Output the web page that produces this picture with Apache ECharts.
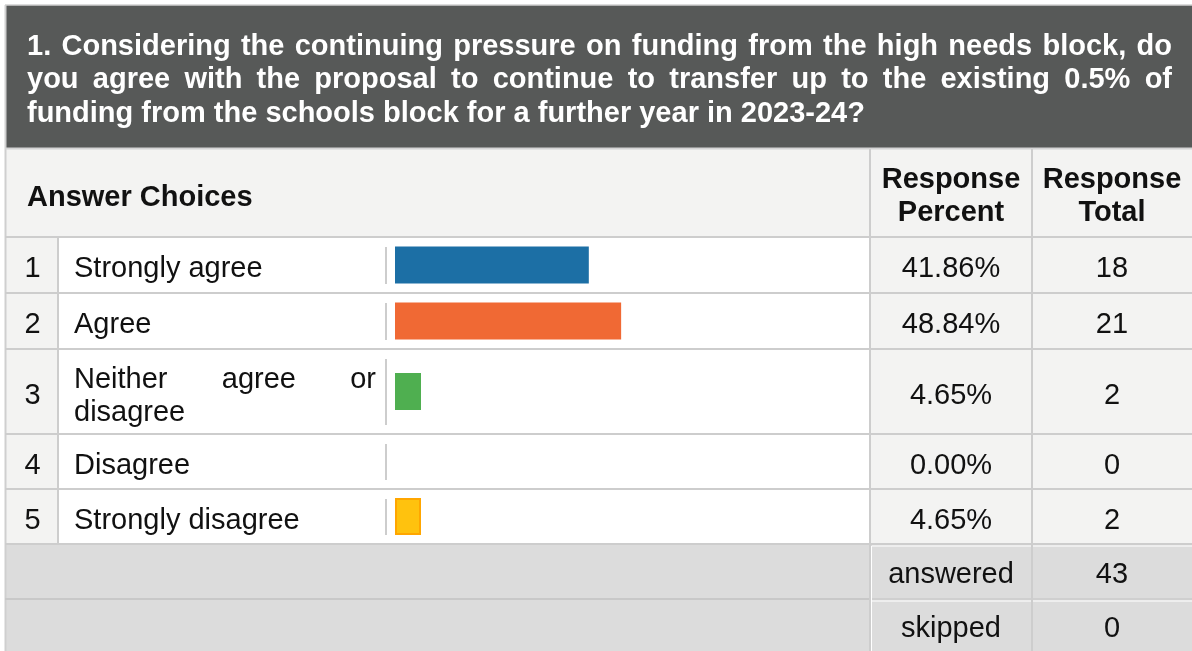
<!DOCTYPE html>
<html>
<head>
<meta charset="utf-8">
<script src="https://cdn.jsdelivr.net/npm/echarts@6/dist/echarts.min.js"></script>
<style>
html,body{margin:0;padding:0;background:#ffffff;}
#chart{width:1192px;height:651px;}
</style>
</head>
<body>
<div id="chart"></div>
<script>
// ---- data ----
const titleLines = [
  '1. Considering the continuing pressure on funding from the high needs block, do',
  'you agree with the proposal to continue to transfer up to the existing 0.5% of',
  'funding from the schools block for a further year in 2023-24?'
];
const headerLabels = ['Answer Choices', 'Response\nPercent', 'Response\nTotal'];
const choiceNumbers = ['1', '2', '3', '4', '5'];
const choiceLabels = ['Strongly agree', 'Agree', 'Neither agree or disagree', 'Disagree', 'Strongly disagree'];
const responsePercent = [41.86, 48.84, 4.65, 0.00, 4.65];
const responseTotal = [18, 21, 2, 0, 2];
const summaryLabels = ['answered', 'skipped'];
const summaryValues = [43, 0];
const barColors = ['#1c6fa5', '#f06934', '#4faf50', '#7b3f98', '#ffc20e'];
const barBorders = ['#1c6fa5', '#f06934', '#4faf50', '#7b3f98', '#ffa600'];

// ---- layout ----
const FONT = '"Liberation Sans", Arial, sans-serif';
const FS = 29;
const X = {left: 5, num: 58, label: 386, pct: 870, tot: 1032, right: 1192};
const titleTop = 5, titleBottom = 148;
const headerTop = 149, headerBottom = 237;
const rowBounds = [[237, 293], [293, 349], [349, 434], [434, 489], [489, 544]];
const sumBounds = [[544, 599], [599, 651]];
const lineColor = '#cdcdcd';
const DY = 2.5; // vertical text offset

const chart = echarts.init(document.getElementById('chart'), null, {renderer: 'canvas'});
const measureCtx = document.createElement('canvas').getContext('2d');

const g = [];
function rect(x, y, w, h, fill) {
  g.push({type: 'rect', silent: true, shape: {x, y, width: w, height: h}, style: {fill}});
}
function line(x1, y1, x2, y2, stroke, lw) {
  g.push({type: 'line', silent: true, shape: {x1, y1, x2, y2}, style: {stroke, lineWidth: lw || 2}});
}
function text(str, x, y, opts) {
  opts = opts || {};
  g.push({type: 'text', silent: true, z: 10, style: {
    text: str, x, y: y + DY,
    font: (opts.bold ? 'bold ' : '') + FS + 'px ' + FONT,
    fill: opts.fill || '#111111',
    align: opts.align || 'left', verticalAlign: 'middle',
    lineHeight: opts.lineHeight || 33
  }});
}
function justify(str, x0, x1, y, opts) {
  const font = (opts.bold ? 'bold ' : '') + FS + 'px ' + FONT;
  measureCtx.font = font;
  const words = str.split(' ');
  const widths = words.map(w => measureCtx.measureText(w).width);
  const sum = widths.reduce((a, b) => a + b, 0);
  const gap = (x1 - x0 - sum) / (words.length - 1);
  let x = x0;
  words.forEach((w, i) => { text(w, x, y, opts); x += widths[i] + gap; });
}

// backgrounds
rect(X.left, titleTop, X.right - X.left, titleBottom - titleTop, '#575958');
rect(X.left, headerTop, X.right - X.left, headerBottom - headerTop, '#f3f3f2');
rowBounds.forEach(([t, b]) => {
  rect(X.left, t, X.num - X.left, b - t, '#f3f3f2');
  rect(X.num, t, X.pct - X.num, b - t, '#ffffff');
  rect(X.pct, t, X.right - X.pct, b - t, '#f3f3f2');
});
rect(X.left, sumBounds[0][0], X.right - X.left, sumBounds[1][1] - sumBounds[0][0], '#dcdcdc');

// outer lines
line(X.left, titleTop, X.right, titleTop, '#d0d0d0', 1.5);
line(X.left + 0.5, titleTop, X.left + 0.5, 651, '#cfcfcf', 2);
line(X.left, 148.5, X.right, 148.5, '#d4d4d4', 2);
line(X.left, headerBottom, X.right, headerBottom, lineColor, 2);
rowBounds.forEach(([t, b]) => line(X.left, b, X.right, b, lineColor, 2));
line(X.left, 599, X.pct, 599, '#c8c8c8', 2);
line(X.pct + 2, 599, X.right, 599, '#cfcfcf', 2);
line(X.pct + 2, 546, X.right, 546, '#ffffff', 1);
line(X.pct + 2, 601, X.right, 601, '#ffffff', 1);
// verticals
line(X.num, headerBottom, X.num, rowBounds[4][1], lineColor, 2);
rowBounds.forEach(([t, b]) => line(X.label, t + 10, X.label, b - 9, lineColor, 2));
line(X.pct, headerTop, X.pct, 651, lineColor, 2);
line(X.pct + 1.5, sumBounds[0][0] + 2, X.pct + 1.5, 651, '#ffffff', 1);
line(X.tot, headerTop, X.tot, 651, lineColor, 2);

// title
const titleYs = [44.5, 77.5, 111];
titleLines.forEach((l, i) => {
  if (i < 2) justify(l, 27, 1172, titleYs[i], {bold: true, fill: '#ffffff'});
  else text(l, 27, titleYs[i], {bold: true, fill: '#ffffff'});
});

// header
text(headerLabels[0], 27, 195, {bold: true});
text(headerLabels[1], (X.pct + X.tot) / 2, 194, {bold: true, align: 'center'});
text(headerLabels[2], (X.tot + X.right) / 2, 194, {bold: true, align: 'center'});

// rows
rowBounds.forEach(([t, b], i) => {
  const cy = (t + b) / 2 + 1.5;
  text(choiceNumbers[i], (X.left + X.num) / 2 + 1, cy, {align: 'center'});
  if (i === 2) {
    const parts = choiceLabels[i].split(' ');
    justify(parts.slice(0, 3).join(' '), 74, 376, 377, {});
    text(parts.slice(3).join(' '), 74, 410, {});
  } else {
    text(choiceLabels[i], 74, cy, {});
  }
  text(responsePercent[i].toFixed(2) + '%', (X.pct + X.tot) / 2, cy, {align: 'center'});
  text(String(responseTotal[i]), (X.tot + X.right) / 2, cy, {align: 'center'});
});
sumBounds.forEach(([t, b], i) => {
  const cy = (t + b) / 2 + 1;
  text(summaryLabels[i], (X.pct + X.tot) / 2, cy, {align: 'center'});
  text(String(summaryValues[i]), (X.tot + X.right) / 2, cy, {align: 'center'});
});

// bar grids, one per row (rows have different heights)
const grids = [], xAxes = [], yAxes = [], series = [];
rowBounds.forEach(([t, b], i) => {
  grids.push({left: 395, width: 463, top: t, height: b - t, containLabel: false});
  xAxes.push({type: 'value', gridIndex: i, min: 0, max: 100, show: false});
  yAxes.push({type: 'category', gridIndex: i, data: [choiceLabels[i]], show: false});
  series.push({
    type: 'bar', xAxisIndex: i, yAxisIndex: i,
    data: [responsePercent[i]],
    barWidth: 37,
    barMinHeight: responsePercent[i] > 0 ? 26 : 0,
    silent: true,
    z: 5,
    itemStyle: {color: barColors[i], borderColor: barBorders[i], borderWidth: i === 4 ? 2 : 0},
    animation: false
  });
});

chart.setOption({
  animation: false,
  grid: grids,
  xAxis: xAxes,
  yAxis: yAxes,
  series: series,
  graphic: {elements: g}
});
</script>
</body>
</html>
